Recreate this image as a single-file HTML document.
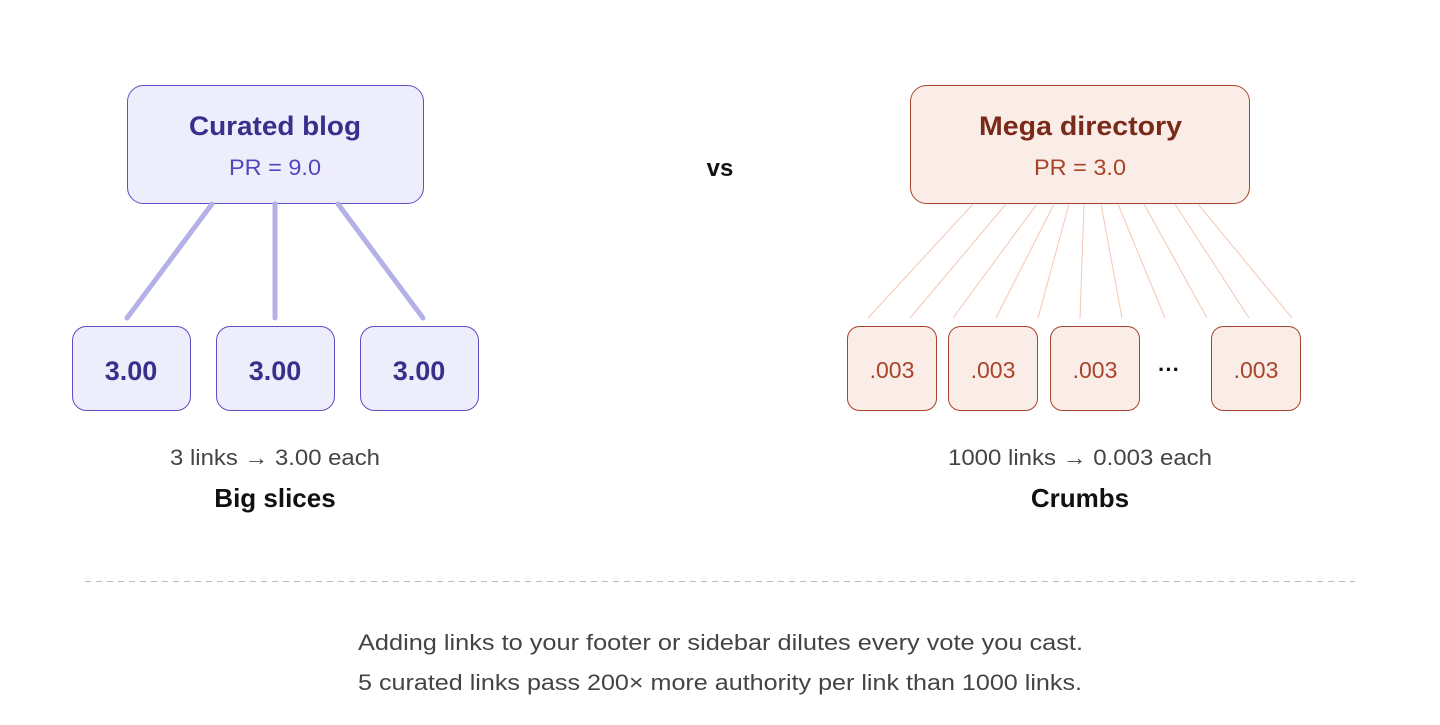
<!DOCTYPE html>
<html><head><meta charset="utf-8"><style>
body{margin:0;background:#fff;width:1440px;height:720px;overflow:hidden}
svg text{font-family:"Liberation Sans",sans-serif}
</style></head><body>
<svg width="1440" height="720" xmlns="http://www.w3.org/2000/svg">
<rect x="127.5" y="85.5" width="296" height="118" rx="16" fill="#eeedfc" stroke="#5b4fc4"/>
<text x="189" y="135" font-size="27" font-weight="bold" fill="#3a2f8c" textLength="172" lengthAdjust="spacingAndGlyphs">Curated blog</text>
<text x="229" y="175" font-size="22" fill="#5246c0" textLength="92" lengthAdjust="spacingAndGlyphs">PR = 9.0</text>
<g stroke="#b4b0e8" stroke-width="5" stroke-linecap="round">
<line x1="212" y1="204" x2="127" y2="318"/><line x1="275" y1="204" x2="275" y2="318"/><line x1="338" y1="204" x2="423" y2="318"/>
</g>
<g fill="#eeedfc" stroke="#5b4fc4">
<rect x="72.5" y="326.5" width="118" height="84" rx="14"/>
<rect x="216.5" y="326.5" width="118" height="84" rx="14"/>
<rect x="360.5" y="326.5" width="118" height="84" rx="14"/>
</g>
<g font-size="27" font-weight="bold" fill="#3a2f8c" text-anchor="middle">
<text x="131" y="380">3.00</text><text x="275" y="380">3.00</text><text x="419" y="380">3.00</text>
</g>
<text x="170" y="465" font-size="22" fill="#444" textLength="210" lengthAdjust="spacingAndGlyphs">3 links → 3.00 each</text>
<text x="275" y="507" text-anchor="middle" font-size="26" font-weight="bold" fill="#111">Big slices</text>
<text x="720" y="176" text-anchor="middle" font-size="24" font-weight="bold" fill="#111">vs</text>
<rect x="910.5" y="85.5" width="339" height="118" rx="16" fill="#faece6" stroke="#a8442a"/>
<text x="979" y="135" font-size="27" font-weight="bold" fill="#7a2a18" textLength="203" lengthAdjust="spacingAndGlyphs">Mega directory</text>
<text x="1034" y="175" font-size="22" fill="#a8442a" textLength="92" lengthAdjust="spacingAndGlyphs">PR = 3.0</text>
<g stroke="#f4c7b6" stroke-width="1">
<line x1="973" y1="204" x2="868" y2="318"/><line x1="1006" y1="204" x2="910" y2="318"/><line x1="1037" y1="204" x2="953" y2="318"/><line x1="1054" y1="204" x2="996" y2="318"/><line x1="1069" y1="204" x2="1038" y2="318"/><line x1="1084" y1="204" x2="1080" y2="318"/><line x1="1101" y1="204" x2="1122" y2="318"/><line x1="1118" y1="204" x2="1165" y2="318"/><line x1="1144" y1="204" x2="1207" y2="318"/><line x1="1175" y1="204" x2="1249" y2="318"/><line x1="1198" y1="204" x2="1292" y2="318"/>
</g>
<g fill="#faece6" stroke="#a8442a">
<rect x="847.5" y="326.5" width="89" height="84" rx="12"/>
<rect x="948.5" y="326.5" width="89" height="84" rx="12"/>
<rect x="1050.5" y="326.5" width="89" height="84" rx="12"/>
<rect x="1211.5" y="326.5" width="89" height="84" rx="12"/>
</g>
<g font-size="23" fill="#a8442a" text-anchor="middle">
<text x="892" y="378">.003</text><text x="993" y="378">.003</text><text x="1095" y="378">.003</text><text x="1256" y="378">.003</text>
</g>
<text x="1169" y="377" text-anchor="middle" font-size="22" font-weight="bold" fill="#111">···</text>
<text x="948" y="465" font-size="22" fill="#444" textLength="264" lengthAdjust="spacingAndGlyphs">1000 links → 0.003 each</text>
<text x="1080" y="507" text-anchor="middle" font-size="26" font-weight="bold" fill="#111">Crumbs</text>
<line x1="85" y1="581.5" x2="1355" y2="581.5" stroke="#bbb" stroke-dasharray="6,5"/>
<text x="358" y="650" font-size="22" fill="#444" textLength="725" lengthAdjust="spacingAndGlyphs">Adding links to your footer or sidebar dilutes every vote you cast.</text>
<text x="358" y="690" font-size="22" fill="#444" textLength="724" lengthAdjust="spacingAndGlyphs">5 curated links pass 200× more authority per link than 1000 links.</text>
</svg>
</body></html>
